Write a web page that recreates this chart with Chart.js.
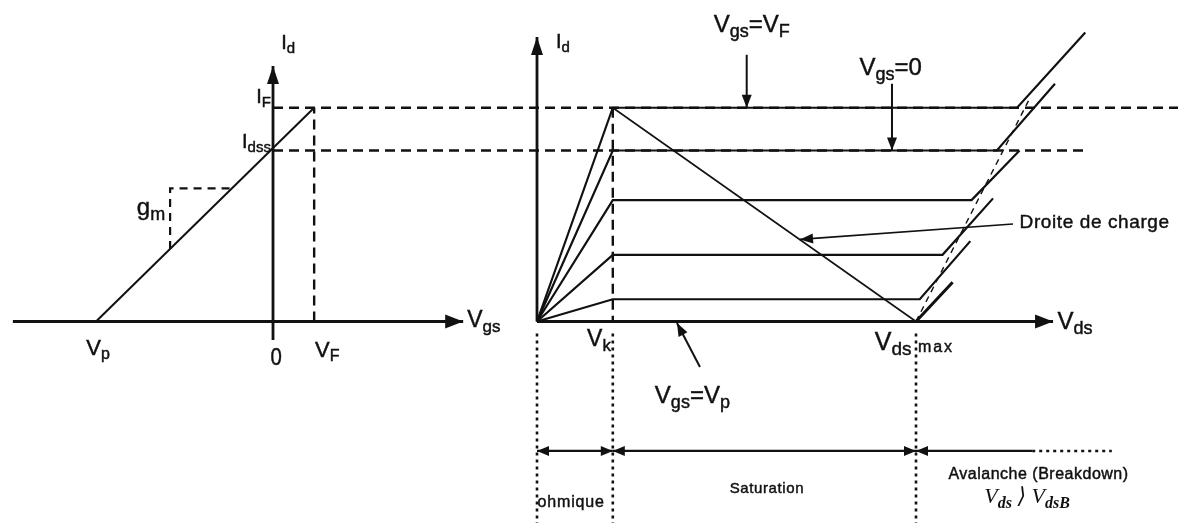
<!DOCTYPE html>
<html>
<head>
<meta charset="utf-8">
<script src="https://cdn.jsdelivr.net/npm/chart.js@4.4.1/dist/chart.umd.min.js"></script>
<style>
  html, body { margin: 0; padding: 0; background: #fff; }
  #wrap { width: 1178px; height: 523px; }
  canvas { display: block; filter: blur(0.45px); }
</style>
</head>
<body>
<div id="wrap"><canvas id="c" width="1178" height="523"></canvas></div>
<script>
// ---- Transfer characteristic (left): Vgs in V, Id in mA ----
const VP = -4.3;          // pinch-off voltage
const VF = 1.0;           // forward gate voltage
const IDSS = 10;          // Id at Vgs = 0
const IF_ = 12.5;         // Id at Vgs = VF
const transferLine = [[VP, 0], [VF, IF_]];
const gmTriangle = [[-2.5, 4.24], [-2.5, 7.78], [-1.0, 7.78]];
const vgsAxis = [[-6.32, 0], [4.62, 0]];
const idAxisLeft = [[0, -1.08], [0, 14.94]];
const ifGuide = [[0, IF_], [22.2, IF_]];
const idssGuide = [[0, IDSS], [19.8, IDSS]];

// ---- Output characteristics (right): Vds in V, Id in mA ----
const VK = 6;             // knee voltage
const VDS_MAX = 30;       // maximum Vds
const curveLevels = [12.5, 10, 7.1, 3.9, 1.3, 0];          // Vgs = VF ... Vp
const saturationEnds = [38.0, 36.4, 34.4, 32.1, 30.3, 30.0];
const breakdownTops = [[43.4, 16.9], [41.0, 13.9], [38.2, 10.0], [36.1, 7.2], [34.3, 4.7], [32.9, 2.3]];
const breakdownLocus = [[30, 0], [38.9, 12.9]];
const loadLine = [[VK, IF_], [VDS_MAX, 0]];
const idAxisRight = [[0, 0], [0, 16.64]];
const vdsAxis = [[0, 0], [40.85, 0]];
const regionBounds = [0, VK, VDS_MAX];
const avalancheSolidEnd = 39.2;
const avalancheDottedEnd = 45.5;
const regionRowId = -7.57;
const pointerVF = [[16.6, 15.6], [16.6, IF_]];
const pointerV0 = [[28.1, 13.9], [28.1, IDSS]];
const pointerVp = [[12.9, -2.66], [11.08, -0.09]];
const pointerLoad = [[37.68, 5.7], [20.82, 4.8]];

// ---- Geometry of the drawing area ----
const W = 1178, H = 523;
const G = { vgsZero: 273, pxPerVgs: 41.16, vdsZero: 537, pxPerVds: 12.633, idZero: 321.5, pxPerMA: 17.1 };
const yMin = -(H - G.idZero) / G.pxPerMA;
const yMax = G.idZero / G.pxPerMA;

const INK = '#111';
const DASH = [10, 6];
const DOT = [3, 4];

function pts(a) { return a.map(([x, y]) => ({ x, y })); }
function line(axis, a, width, dash) {
  return {
    xAxisID: axis, yAxisID: 'y', data: pts(a), showLine: true,
    borderColor: INK, backgroundColor: INK, borderWidth: width,
    borderDash: dash || [], pointRadius: 0, fill: false, tension: 0,
    borderCapStyle: 'butt', borderJoinStyle: 'miter'
  };
}

const datasets = [];
// left diagram
datasets.push(line('xg', ifGuide, 2.4, DASH));
datasets.push(line('xg', idssGuide, 2.4, DASH));
datasets.push(line('xg', [[VF, 0], [VF, IF_]], 2.4, DASH));
datasets.push(line('xg', gmTriangle, 2.2, [8, 6]));
datasets.push(line('xg', vgsAxis, 2.8));
datasets.push(line('xg', idAxisLeft, 2.8));
datasets.push(line('xg', transferLine, 2));
// right diagram
datasets.push(line('xd', [[VK, IF_], [VK, 0]], 2.4, DASH));
curveLevels.forEach((lvl, i) => {
  datasets.push(line('xd', [[0, 0], [VK, lvl], [saturationEnds[i], lvl], breakdownTops[i]], i === curveLevels.length - 1 ? 3 : 2.2));
});
datasets.push(line('xd', breakdownLocus, 1.4, [6, 5]));
datasets.push(line('xd', loadLine, 1.6));
datasets.push(line('xd', idAxisRight, 2.8));
datasets.push(line('xd', vdsAxis, 2.8));
regionBounds.forEach(v => datasets.push(line('xd', [[v, -0.7], [v, yMin]], 2.6, DOT)));
datasets.push(line('xd', [[regionBounds[0], regionRowId], [regionBounds[1], regionRowId]], 2.2));
datasets.push(line('xd', [[regionBounds[1], regionRowId], [regionBounds[2], regionRowId]], 2.2));
datasets.push(line('xd', [[regionBounds[2], regionRowId], [avalancheSolidEnd, regionRowId]], 2.2));
datasets.push(line('xd', [[avalancheSolidEnd, regionRowId], [avalancheDottedEnd, regionRowId]], 2.4, DOT));
[pointerVF, pointerV0, pointerVp].forEach(p => datasets.push(line('xd', p, 2)));
datasets.push(line('xd', pointerLoad, 1.6));

// arrowheads: tip at `to`, pointing away from `from`
const arrowHeads = [
  { axis: 'xg', from: vgsAxis[0], to: vgsAxis[1], len: 18, half: 7 },
  { axis: 'xg', from: idAxisLeft[0], to: idAxisLeft[1], len: 18, half: 6 },
  { axis: 'xd', from: idAxisRight[0], to: idAxisRight[1], len: 18, half: 6 },
  { axis: 'xd', from: vdsAxis[0], to: vdsAxis[1], len: 18, half: 7 },
  { axis: 'xd', from: pointerVF[0], to: pointerVF[1], len: 13, half: 5 },
  { axis: 'xd', from: pointerV0[0], to: pointerV0[1], len: 13, half: 5 },
  { axis: 'xd', from: pointerVp[0], to: pointerVp[1], len: 13, half: 5 },
  { axis: 'xd', from: pointerLoad[0], to: pointerLoad[1], len: 13, half: 5 },
  { axis: 'xd', from: [regionBounds[1], regionRowId], to: [regionBounds[0], regionRowId], len: 12, half: 5 },
  { axis: 'xd', from: [regionBounds[0], regionRowId], to: [regionBounds[1], regionRowId], len: 12, half: 5 },
  { axis: 'xd', from: [regionBounds[2], regionRowId], to: [regionBounds[1], regionRowId], len: 12, half: 5 },
  { axis: 'xd', from: [regionBounds[1], regionRowId], to: [regionBounds[2], regionRowId], len: 12, half: 5 },
  { axis: 'xd', from: [avalancheSolidEnd, regionRowId], to: [regionBounds[2], regionRowId], len: 12, half: 5 }
];

const SANS = '"Liberation Sans", Arial, sans-serif';
const SERIF = '"Liberation Serif", "DejaVu Serif", serif';
const labels = [
  { axis: 'xg', t: 'I_{d}', x: 0.2, y: 16.28, align: 'left', size: 20 },
  { axis: 'xg', t: 'I_{F}', x: -0.05, y: 13.1, align: 'right', size: 20 },
  { axis: 'xg', t: 'I_{dss}', x: -0.05, y: 10.45, align: 'right', size: 20 },
  { axis: 'xg', t: 'g_{m}', x: -2.62, y: 6.6, align: 'right', size: 24 },
  { axis: 'xg', t: 'V_{p}', x: VP + 0.05, y: -1.6, align: 'center', size: 22 },
  { axis: 'xg', t: '0', x: 0.08, y: -2.15, align: 'center', size: 24, sx: 0.85 },
  { axis: 'xg', t: 'V_{F}', x: VF + 0.02, y: -1.7, align: 'left', size: 22 },
  { axis: 'xg', t: 'V_{gs}', x: 4.72, y: 0.05, align: 'left', size: 23 },
  { axis: 'xd', t: 'I_{d}', x: 1.5, y: 16.3, align: 'left', size: 20 },
  { axis: 'xd', t: 'V_{gs}=V_{F}', x: 17.0, y: 17.3, align: 'center', size: 24 },
  { axis: 'xd', t: 'V_{gs}=0', x: 28.0, y: 14.8, align: 'center', size: 24 },
  { axis: 'xd', t: 'Droite de charge', x: 38.2, y: 5.8, align: 'left', size: 19, ls: 0.6 },
  { axis: 'xd', t: 'V_{ds}', x: 41.2, y: -0.05, align: 'left', size: 24 },
  { axis: 'xd', t: 'V_{k}', x: 5.85, y: -1.08, align: 'right', size: 23 },
  { axis: 'xd', t: 'V_{ds}', x: 29.65, y: -1.26, align: 'right', size: 25 },
  { axis: 'xd', t: 'max', x: 30.15, y: -1.5, align: 'left', size: 16, ls: 2 },
  { axis: 'xd', t: 'V_{gs}=V_{p}', x: 12.3, y: -4.38, align: 'center', size: 24 },
  { axis: 'xd', t: 'ohmique', x: 2.7, y: -10.6, align: 'center', size: 16, ls: 0.8 },
  { axis: 'xd', t: 'Saturation', x: 18.2, y: -9.8, align: 'center', size: 15, ls: 0.6 },
  { axis: 'xd', t: 'Avalanche (Breakdown)', x: 39.7, y: -8.98, align: 'center', size: 16, ls: 0.5 },
  { axis: 'xd', t: 'V_{ds} \u27E9 V_{dsB}', x: 38.8, y: -10.3, align: 'center', size: 22, serif: true }
];

function parseRich(s) {
  const parts = [];
  const re = /_\{([^}]*)\}/g;
  let last = 0, m;
  while ((m = re.exec(s))) {
    if (m.index > last) parts.push({ s: s.slice(last, m.index), sub: false });
    parts.push({ s: m[1], sub: true });
    last = re.lastIndex;
  }
  if (last < s.length) parts.push({ s: s.slice(last), sub: false });
  return parts;
}

const arrowPlugin = {
  id: 'arrowHeads',
  afterDatasetsDraw(chart) {
    const ctx = chart.ctx, ys = chart.scales.y;
    ctx.save();
    ctx.fillStyle = INK;
    arrowHeads.forEach(a => {
      const xs = chart.scales[a.axis];
      const x0 = xs.getPixelForValue(a.from[0]), y0 = ys.getPixelForValue(a.from[1]);
      const x1 = xs.getPixelForValue(a.to[0]), y1 = ys.getPixelForValue(a.to[1]);
      const d = Math.hypot(x1 - x0, y1 - y0) || 1;
      const ux = (x1 - x0) / d, uy = (y1 - y0) / d;
      const bx = x1 - ux * a.len, by = y1 - uy * a.len;
      ctx.beginPath();
      ctx.moveTo(x1, y1);
      ctx.lineTo(bx - uy * a.half, by + ux * a.half);
      ctx.lineTo(bx + uy * a.half, by - ux * a.half);
      ctx.closePath();
      ctx.fill();
    });
    ctx.restore();
  }
};

const labelPlugin = {
  id: 'richLabels',
  afterDatasetsDraw(chart) {
    const ctx = chart.ctx, ys = chart.scales.y;
    labels.forEach(l => {
      const xs = chart.scales[l.axis];
      const px = xs.getPixelForValue(l.x), py = ys.getPixelForValue(l.y);
      const fam = l.serif ? SERIF : SANS;
      const style = l.serif ? 'italic ' : '';
      const main = `${style}${l.size}px ${fam}`;
      const sub = `${l.serif ? 'bold ' : ''}${style}${Math.round(l.size * 0.74)}px ${fam}`;
      const sx = l.sx || 1;
      const ls = l.ls || 0;
      const parts = parseRich(l.t);
      ctx.save();
      ctx.letterSpacing = ls + 'px';
      let total = 0;
      parts.forEach(p => { ctx.font = p.sub ? sub : main; p.w = ctx.measureText(p.s).width; total += p.w; });
      total *= sx;
      let x0 = px;
      if (l.align === 'center') x0 = px - total / 2;
      else if (l.align === 'right') x0 = px - total;
      ctx.translate(x0, py);
      ctx.scale(sx, 1);
      ctx.fillStyle = INK;
      ctx.strokeStyle = INK;
      ctx.lineWidth = 0.45;
      ctx.textBaseline = 'middle';
      ctx.textAlign = 'left';
      let cx = 0;
      parts.forEach(p => {
        ctx.font = p.sub ? sub : main;
        const dy = p.sub ? l.size * 0.27 : 0;
        ctx.fillText(p.s, cx, dy);
        if (!l.serif) ctx.strokeText(p.s, cx, dy);
        cx += p.w;
      });
      ctx.restore();
    });
  }
};

new Chart(document.getElementById('c').getContext('2d'), {
  type: 'scatter',
  data: { datasets },
  options: {
    responsive: false,
    animation: false,
    events: [],
    layout: { padding: 0 },
    plugins: { legend: { display: false }, tooltip: { enabled: false } },
    scales: {
      x: { type: 'linear', display: false },
      xg: { type: 'linear', axis: 'x', display: false,
            min: -G.vgsZero / G.pxPerVgs, max: (W - G.vgsZero) / G.pxPerVgs },
      xd: { type: 'linear', axis: 'x', display: false,
            min: -G.vdsZero / G.pxPerVds, max: (W - G.vdsZero) / G.pxPerVds },
      y: { type: 'linear', display: false, min: yMin, max: yMax }
    }
  },
  plugins: [arrowPlugin, labelPlugin]
});
</script>
</body>
</html>
